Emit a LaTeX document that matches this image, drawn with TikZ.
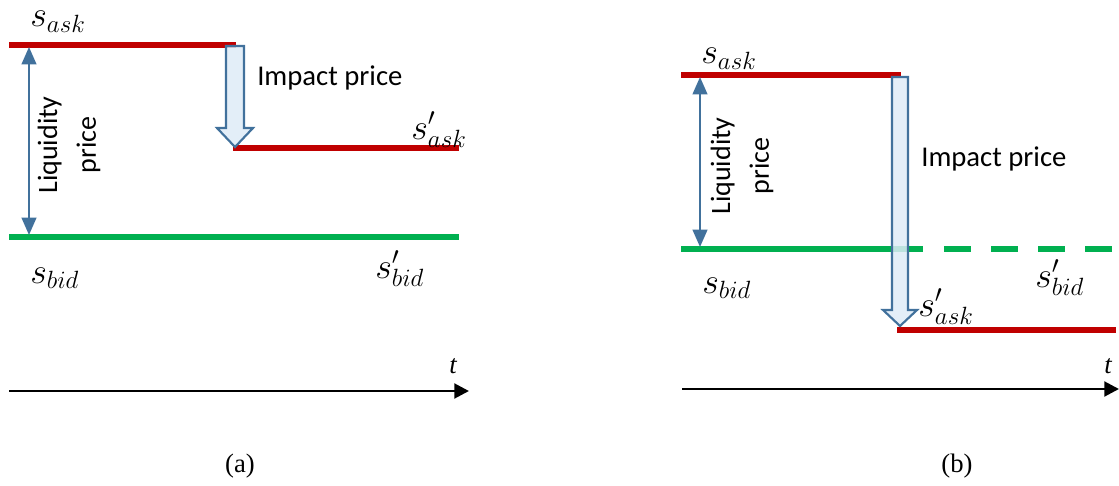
\documentclass[tikz,border=0pt]{standalone}
\usepackage{fontspec}
\setmainfont{Liberation Serif}
\newfontfamily\calib{Carlito}
\usetikzlibrary{arrows.meta}
\definecolor{askred}{RGB}{192,0,0}
\definecolor{bidgreen}{RGB}{0,176,80}
\definecolor{arrblue}{RGB}{65,113,156}
\definecolor{arrfill}{RGB}{222,235,247}
\tikzset{
  askline/.style={draw=askred, line width=3.9pt},
  bidline/.style={draw=bidgreen, line width=3.9pt},
  liqarrow/.style={draw=arrblue, line width=1.6pt, {Triangle[length=13pt,width=11pt]}-{Triangle[length=13pt,width=11pt]}},
  blockarrow/.style={draw=arrblue, line width=1.6pt, fill=arrfill, fill opacity=0.85},
  timeaxis/.style={draw=black, line width=2.2pt, -{Triangle[length=11pt,width=11pt]}},
  mlabel/.style={inner sep=0pt, anchor=base west, scale=1.3, font=\fontsize{22}{26}\selectfont},
  sanslabel/.style={inner sep=0pt, anchor=base west, font=\calib\fontsize{21.5}{26}\selectfont},
  liqlabel/.style={inner sep=0pt, rotate=90, align=center, font=\calib\fontsize{21}{29}\selectfont},
  tlabel/.style={inner sep=0pt, anchor=base west, font=\fontsize{20}{24}\selectfont\itshape},
  caplabel/.style={inner sep=0pt, font=\fontsize{20}{24}\selectfont},
}
\begin{document}
\begin{tikzpicture}[x=0.75pt,y=-0.75pt]
\useasboundingbox (0,0) rectangle (1119,485);
% ---------------- panel (a) ----------------
\coordinate (aA1) at (9,45);   \coordinate (aA2) at (236,45);
\coordinate (aA3) at (233,148); \coordinate (aA4) at (459,148);
\coordinate (aB1) at (9,237);  \coordinate (aB2) at (459,237);
\coordinate (aL1) at (29,47);  \coordinate (aL2) at (29,235);
\coordinate (aT1) at (9,391);  \coordinate (aT2) at (469,391);
\draw[askline] (aA1) -- (aA2);
\draw[askline] (aA3) -- (aA4);
\draw[bidline] (aB1) -- (aB2);
\draw[liqarrow] (aL1) -- (aL2);
\draw[blockarrow] (226,46) -- (244,46) -- (244,128) -- (253,128) -- (235,147) -- (217,128) -- (226,128) -- cycle;
\draw[timeaxis] (aT1) -- (aT2);
\node[mlabel] (asask) at (30,27) {$s_{ask}$};
\node[mlabel] (asaskp) at (411,139) {$s'_{ask}$};
\node[mlabel] (asbid) at (30,283) {$s_{bid}$};
\node[mlabel] (asbidp) at (375,278) {$s'_{bid}$};
\node[sanslabel] (aimp) at (257,85) {Impact price};
\node[liqlabel] (aliq) at (69,145) {Liquidity\\price};
\node[tlabel] (at) at (449,373) {t};
\node[caplabel] (acap) at (240,466) {(a)};
% ---------------- panel (b) ----------------
\coordinate (bA1) at (681,75);  \coordinate (bA2) at (901,75);
\coordinate (bA3) at (897,330); \coordinate (bA4) at (1116,330);
\coordinate (bB1) at (681,249); \coordinate (bB2) at (923,249);
\coordinate (bB3) at (944,249); \coordinate (bB4) at (1114,249);
\coordinate (bL1) at (700,77);  \coordinate (bL2) at (700,247);
\coordinate (bT1) at (682,389); \coordinate (bT2) at (1119,389);
\draw[askline] (bA1) -- (bA2);
\draw[askline] (bA3) -- (bA4);
\draw[bidline] (bB1) -- (bB2);
\draw[bidline, dash pattern=on 20.25pt off 15pt] (bB3) -- (bB4);
\draw[liqarrow] (bL1) -- (bL2);
\draw[blockarrow] (892,77) -- (908,77) -- (908,310) -- (917,310) -- (900,326) -- (883,310) -- (892,310) -- cycle;
\draw[timeaxis] (bT1) -- (bT2);
\node[mlabel] (bsask) at (701,64) {$s_{ask}$};
\node[mlabel] (bsaskp) at (918,316) {$s'_{ask}$};
\node[mlabel] (bsbid) at (702,293) {$s_{bid}$};
\node[mlabel] (bsbidp) at (1035,287) {$s'_{bid}$};
\node[sanslabel] (bimp) at (921,166) {Impact price};
\node[liqlabel] (bliq) at (742,166) {Liquidity\\price};
\node[tlabel] (bt) at (1104,373) {t};
\node[caplabel] (bcap) at (957,466) {(b)};
\end{tikzpicture}
\end{document}
